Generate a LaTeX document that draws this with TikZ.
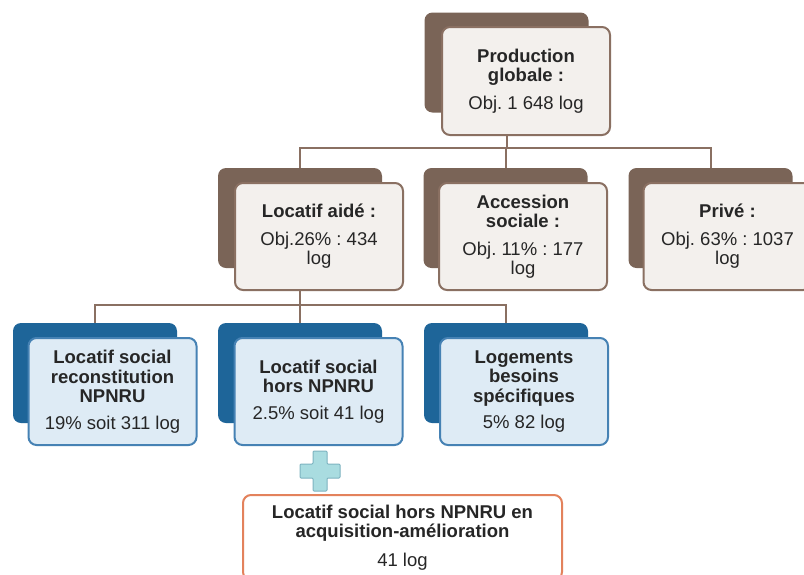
\documentclass[tikz,border=0pt]{standalone}
\usepackage{fontspec}
\setmainfont{Liberation Sans}
\definecolor{brBack}{HTML}{7A6457}
\definecolor{brLine}{HTML}{8A7062}
\definecolor{brFill}{HTML}{F3F0ED}
\definecolor{blBack}{HTML}{1E6599}
\definecolor{blLine}{HTML}{4682B4}
\definecolor{blFill}{HTML}{DEEBF5}
\definecolor{orLine}{HTML}{E3825C}
\definecolor{plFill}{HTML}{A9DCE0}
\definecolor{plLine}{HTML}{7DB3C0}
\definecolor{txt}{HTML}{262626}
\frenchspacing
\begin{document}
\begin{tikzpicture}[x=1pt,y=-1pt,
  back/.style={rounded corners=8pt, minimum width=164pt, minimum height=100pt, inner sep=0pt},
  brownback/.style={back, fill=brBack},
  blueback/.style={back, fill=blBack},
  front/.style={rounded corners=8pt, minimum width=168pt, minimum height=107pt, inner sep=0pt,
    line width=2pt, align=center, font=\fontsize{18.5}{19.5}\selectfont\frenchspacing, text=txt},
  brownfront/.style={front, draw=brLine, fill=brFill},
  bluefront/.style={front, draw=blLine, fill=blFill},
  conn/.style={draw=brLine, line width=2pt}
]
\clip (0,0) rectangle (804,574);
\fill[white] (0,0) rectangle (804,574);

% level 1
\node[brownback] (prodB) at (506.5,62.5) {};
\node[brownfront, minimum height=108pt] (prodF) at (526,81)
  {\textbf{Production}\\\textbf{globale :}\\[8pt]Obj. 1 648 log};

% level 2
\node[brownback] (aideB) at (300,218) {};
\node[brownfront] (aideF) at (319,236.5)
  {\textbf{Locatif aidé :}\\[8pt]Obj.26\% : 434\\log};
\node[brownback] (accB) at (505.5,218) {};
\node[brownfront] (accF) at (523,236.5)
  {\textbf{Accession}\\\textbf{sociale :}\\[8pt]Obj. 11\% : 177\\log};
\node[brownback] (priveB) at (710.5,218) {};
\node[brownfront] (priveF) at (727.5,236.5)
  {\textbf{Privé :}\\[8pt]Obj. 63\% : 1037\\log};

% level 3
\node[blueback] (lsrB) at (95,373) {};
\node[bluefront] (lsrF) at (112.5,391.5)
  {\textbf{Locatif social}\\\textbf{reconstitution}\\\textbf{NPNRU}\\[7pt]19\% soit 311 log};
\node[blueback] (lshB) at (300,373) {};
\node[bluefront] (lshF) at (318.5,391.5)
  {\textbf{Locatif social}\\\textbf{hors NPNRU}\\[7pt]2.5\% soit 41 log};
\node[blueback] (lbsB) at (506,373) {};
\node[bluefront] (lbsF) at (524,391.5)
  {\textbf{Logements}\\\textbf{besoins}\\\textbf{spécifiques}\\[7pt]5\% 82 log};

% plus sign
\draw[fill=plFill, draw=plLine, line width=1pt, rounded corners=1pt]
  (313,451) -- (327,451) -- (327,464) -- (340,464) -- (340,478) -- (327,478)
  -- (327,491) -- (313,491) -- (313,478) -- (300,478) -- (300,464) -- (313,464) -- cycle;

% acquisition box
\node[draw=orLine, line width=2pt, fill=white, rounded corners=8pt,
  minimum width=319pt, minimum height=85pt, inner sep=0pt, align=center,
  font=\fontsize{18.5}{19.5}\selectfont\frenchspacing, text=txt] (acq) at (402.5,537.5)
  {\textbf{Locatif social hors NPNRU en}\\\textbf{acquisition-amélioration}\\[9pt]41 log};

% connectors
\coordinate (bus1) at (506.5,148);
\draw[conn] (prodB.south |- prodF.south) -- (bus1);
\draw[conn] (aideB.north) |- (bus1) -| (priveB.north);
\draw[conn] (accB.north |- bus1) -- (accB.north);

\coordinate (bus2) at (300,305);
\draw[conn] (aideB.south |- aideF.south) -- (bus2);
\draw[conn] (lsrB.north) |- (bus2) -| (lbsB.north);
\draw[conn] (bus2) -- (lshB.north);
\end{tikzpicture}
\end{document}
